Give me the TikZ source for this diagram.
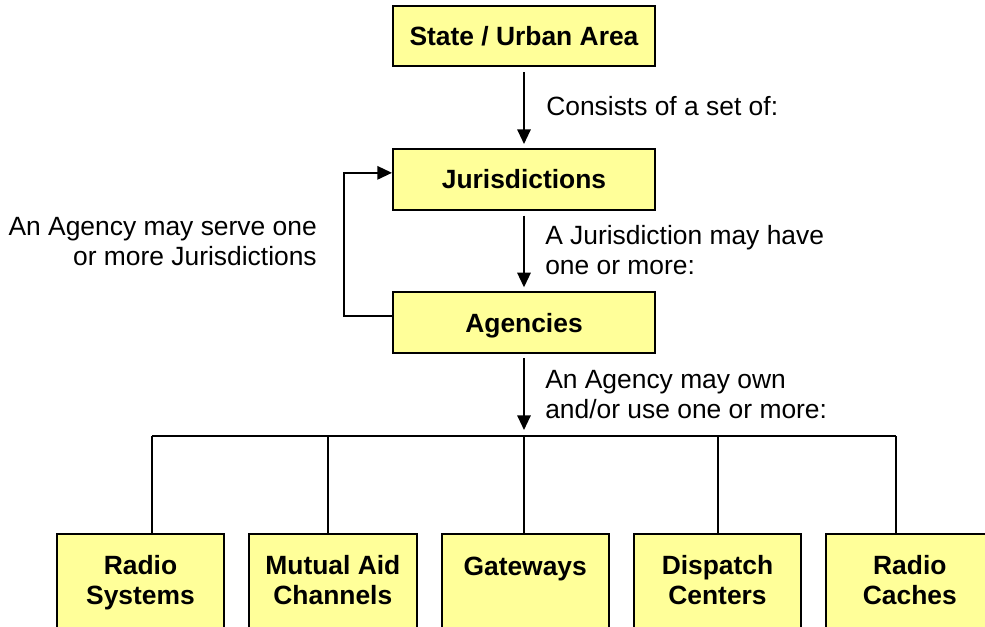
\documentclass[tikz,border=0pt]{standalone}
\usepackage{fontspec}
\setmainfont{Liberation Sans}
\usetikzlibrary{arrows.meta, calc, positioning}
\definecolor{boxyellow}{HTML}{FFFF99}

\begin{document}
\begin{tikzpicture}[x=0.75pt, y=-0.75pt,
  levelbox/.style={draw, fill=boxyellow, line width=1.5pt, minimum width=196.5pt, minimum height=45.5pt, text height=14.3pt, text depth=0pt, font=\fontsize{19.8}{23}\selectfont\bfseries},
  itembox/.style={draw, fill=boxyellow, line width=1.5pt, minimum width=125.5pt, inner ysep=0pt, text height=52.9pt, text depth=55pt, align=center, font=\fontsize{19.8}{22.2}\selectfont\bfseries},
  note/.style={inner sep=0pt, font=\fontsize{19.8}{22.5}\selectfont},
  link/.style={line width=1.5pt, -{Triangle[length=11pt, width=10pt]}},
  wire/.style={line width=1.5pt}]
\useasboundingbox (0,0) rectangle (985,626);
\clip (0,0) rectangle (985,626);

% Hierarchy
\node[levelbox] (state) at (524,36) {State / Urban Area};
\node[levelbox, below=60.5pt of state] (jurisdictions) {Jurisdictions};
\node[levelbox, below=60.5pt of jurisdictions] (agencies) {Agencies};
\draw[link, shorten <=3.75pt, shorten >=3pt] (state) -- (jurisdictions);
\draw[link, shorten <=3.75pt, shorten >=3pt] (jurisdictions) -- (agencies);
\draw[link] ($(agencies.west)+(0,-7)$) -- ++(-48,0) |- ($(jurisdictions.west)+(0,-6.5)$);

% Labels (base = last line)
\node[note, anchor=base west] (setlabel) at (546,115) {Consists of a set of:};
\node[note, anchor=base west, align=left] (havelabel) at (545,274) {A Jurisdiction may have\\one or more:};
\node[note, anchor=base west, align=left] (ownlabel) at (545,418) {An Agency may own\\and/or use one or more:};
\node[note, anchor=base east, align=right] (servelabel) at (317,265) {An Agency may serve one\\or more Jurisdictions};

% Resources
\node[itembox, anchor=north] (radio) at (140.5,533) {Radio\\Systems};
\node[itembox, right=17.25pt of radio] (mutual) {Mutual Aid\\Channels};
\node[itembox, right=17.25pt of mutual, text height=30.75pt, text depth=77.15pt] (gateways) {Gateways};
\node[itembox, right=17.25pt of gateways] (dispatch) {Dispatch\\Centers};
\node[itembox, right=17.25pt of dispatch] (caches) {Radio\\Caches};

% Bus
\coordinate (bus) at (524,436);
\draw[link, shorten <=3pt, shorten >=4.5pt] (agencies) -- (bus);
\draw[wire] (152,436) coordinate (busL) -- (896,436) coordinate (busR);
\foreach \name/\x in {radio/152, mutual/328, gateways/524, dispatch/718, caches/896}{
  \coordinate (drop\name) at (\x,436);
  \draw[wire] (drop\name) -- (drop\name |- \name.north);
}
\end{tikzpicture}
\end{document}
